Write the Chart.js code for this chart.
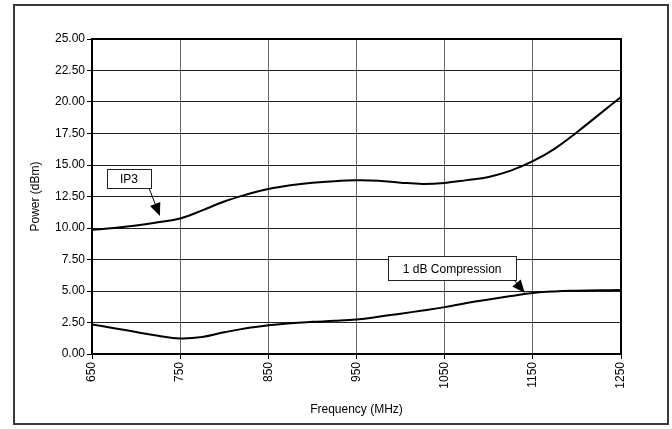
<!DOCTYPE html>
<html>
<head>
<meta charset="utf-8">
<script src="https://cdn.jsdelivr.net/npm/chart.js@4/dist/chart.umd.min.js"></script>
<style>
  html, body { margin: 0; padding: 0; background: #fff; }
  #wrap { width: 672px; height: 429px; position: relative; }
</style>
</head>
<body>
<div id="wrap"><canvas id="c" width="672" height="429"></canvas></div>
<script>
// Frequency sweep (MHz)
const frequency = [650, 675, 700, 725, 750, 775, 800, 825, 850, 875, 900, 925, 950, 975,
                   1000, 1025, 1050, 1075, 1100, 1125, 1150, 1175, 1200, 1225, 1250];
// Third-order intercept point (dBm)
const ip3 = [9.85, 10.0, 10.2, 10.45, 10.75, 11.4, 12.1, 12.65, 13.1, 13.4, 13.6, 13.72, 13.78, 13.75,
             13.6, 13.5, 13.58, 13.8, 14.05, 14.55, 15.3, 16.3, 17.6, 19.0, 20.4];
// 1 dB compression point (dBm)
const p1db = [2.35, 2.05, 1.75, 1.45, 1.24, 1.35, 1.72, 2.05, 2.28, 2.45, 2.55, 2.63, 2.74, 2.95,
              3.2, 3.45, 3.72, 4.05, 4.33, 4.6, 4.85, 4.97, 5.02, 5.05, 5.07];
// Axis ticks
const xTicks = [650, 750, 850, 950, 1050, 1150, 1250];
const yTicks = [0, 2.5, 5, 7.5, 10, 12.5, 15, 17.5, 20, 22.5, 25];

const FONT = "'Liberation Sans', Arial, sans-serif";

// Callout boxes with arrows pointing at the curves (centre and tip in data units)
const callouts = [
  { text: 'IP3', box: { x: 692, y: 13.9 }, w: 44, h: 19, tip: { x: 727, y: 10.95 } },
  { text: '1 dB Compression', box: { x: 1058.5, y: 6.8 }, w: 128, h: 24, tip: { x: 1141, y: 4.85 } }
];

const framePlugin = {
  id: 'frame',
  afterDraw(chart) {
    const ctx = chart.ctx;
    const a = chart.chartArea;
    const xs = chart.scales.x, ys = chart.scales.y;
    ctx.save();
    // plot frame
    ctx.strokeStyle = '#000';
    ctx.lineWidth = 2;
    ctx.strokeRect(a.left, a.top, a.right - a.left, a.bottom - a.top);
    // outer frame
    ctx.strokeStyle = '#3a3a3a';
    ctx.lineWidth = 2;
    ctx.strokeRect(14, 5, 654, 419);

    // callouts
    ctx.font = '12px ' + FONT;
    ctx.textBaseline = 'middle';
    ctx.textAlign = 'center';
    callouts.forEach(c => {
      const cx = xs.getPixelForValue(c.box.x);
      const cy = ys.getPixelForValue(c.box.y);
      const w = c.w, h = c.h;
      const bx = Math.round(cx - w / 2), by = Math.round(cy - h / 2);
      ctx.fillStyle = '#fff';
      ctx.fillRect(bx, by, w, h);
      ctx.strokeStyle = '#222';
      ctx.lineWidth = 1;
      ctx.strokeRect(bx + 0.5, by + 0.5, w, h);
      ctx.fillStyle = '#000';
      ctx.fillText(c.text, cx, cy + 1);

      // arrow from the lower right corner of the box
      const sx = bx + w - 2, sy = by + h;
      const tx = xs.getPixelForValue(c.tip.x), ty = ys.getPixelForValue(c.tip.y);
      const ang = Math.atan2(ty - sy, tx - sx);
      const len = 13, half = 5.5;
      const baseX = tx - len * Math.cos(ang), baseY = ty - len * Math.sin(ang);
      ctx.strokeStyle = '#000';
      ctx.lineWidth = 1;
      ctx.beginPath();
      ctx.moveTo(sx, sy);
      ctx.lineTo(baseX, baseY);
      ctx.stroke();
      ctx.beginPath();
      ctx.moveTo(tx, ty);
      ctx.lineTo(baseX + half * Math.sin(ang), baseY - half * Math.cos(ang));
      ctx.lineTo(baseX - half * Math.sin(ang), baseY + half * Math.cos(ang));
      ctx.closePath();
      ctx.fillStyle = '#000';
      ctx.fill();
    });
    ctx.restore();
  }
};

const toPoints = ys => frequency.map((f, i) => ({ x: f, y: ys[i] }));

new Chart(document.getElementById('c'), {
  type: 'line',
  data: {
    datasets: [
      { label: 'IP3', data: toPoints(ip3), borderColor: '#000', borderWidth: 2,
        pointRadius: 0, tension: 0.4, fill: false },
      { label: '1 dB Compression', data: toPoints(p1db), borderColor: '#000', borderWidth: 2,
        pointRadius: 0, tension: 0.4, fill: false }
    ]
  },
  options: {
    responsive: false,
    animation: false,
    devicePixelRatio: 1,
    layout: { padding: { left: 24, top: 39, right: 51, bottom: 8 } },
    plugins: { legend: { display: false }, tooltip: { enabled: false } },
    scales: {
      x: {
        type: 'linear',
        min: 650, max: 1250,
        afterBuildTicks: s => { s.ticks = xTicks.map(v => ({ value: v })); },
        afterFit: s => { s.height = 67; },
        grid: { color: '#666', lineWidth: 1, tickLength: 5, tickColor: '#000' },
        border: { display: true, color: '#000', width: 2 },
        ticks: {
          minRotation: 90, maxRotation: 90, padding: 3, color: '#000',
          font: { family: FONT, size: 12 },
          callback: v => String(v)
        },
        title: { display: true, text: 'Frequency (MHz)', color: '#000',
                 font: { family: FONT, size: 12 }, padding: { top: 4, bottom: 4 } }
      },
      y: {
        min: 0, max: 25,
        afterBuildTicks: s => { s.ticks = yTicks.map(v => ({ value: v })); },
        afterFit: s => { s.width = 68; },
        grid: { color: '#222', lineWidth: 1, tickLength: 5, tickColor: '#000' },
        border: { display: true, color: '#000', width: 2 },
        ticks: {
          padding: 2, color: '#000',
          font: { family: FONT, size: 12 },
          callback: v => Number(v).toFixed(2)
        },
        title: { display: true, text: 'Power (dBm)', color: '#000',
                 font: { family: FONT, size: 12 }, padding: { top: 4, bottom: 4 } }
      }
    }
  },
  plugins: [framePlugin]
});
</script>
</body>
</html>
